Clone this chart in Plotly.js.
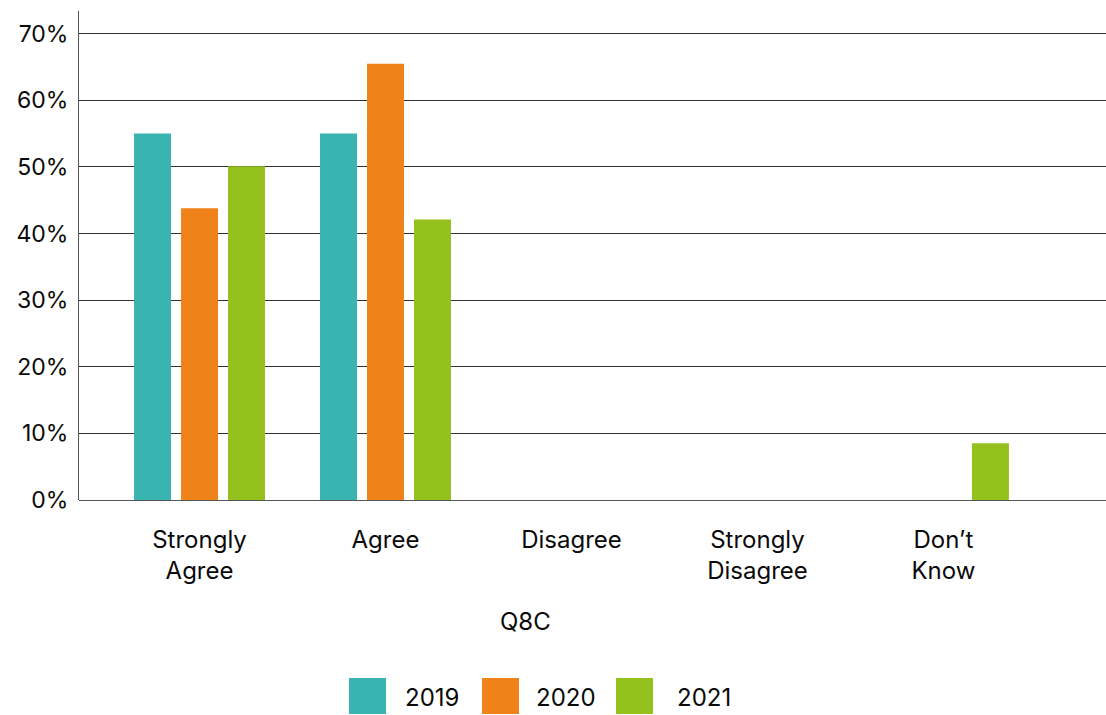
<!DOCTYPE html>
<html>
<head>
<meta charset="utf-8">
<script src="https://cdn.plot.ly/plotly-3.0.1.min.js"></script>
<style>html,body{margin:0;padding:0;background:#fff;}#chart{width:1106px;height:715px;}</style>
</head>
<body>
<div id="chart"></div>
<script>
// ---- data ----
const categories = ["Strongly<br>Agree", "Agree", "Disagree", "Strongly<br>Disagree", "Don’t<br>Know"];
const seriesNames = ["2019", "2020", "2021"];
const values2019 = [55, 55, 0, 0, 0];
const values2020 = [43.8, 65.5, 0, 0, 0];
const values2021 = [50.1, 42.1, 0, 0, 8.5];
const seriesColors = ["#3AB4B0", "#F0821A", "#95C11F"];
const yTickValues = [0, 10, 20, 30, 40, 50, 60, 70];
const yTickLabels = ["0%", "10%", "20%", "30%", "40%", "50%", "60%", "70%"];
const axisTitle = "Q8C";

// ---- layout geometry ----
const W = 1106, Hh = 715;
const mL = 79, mR = 0, mT = 11, mB = 215;
const plotW = W - mL - mR, plotH = Hh - mT - mB;
const px2x = p => (p - mL) / plotW;
const py2y = p => (mT + plotH - p) / plotH;
const FONT = "Inter, 'Open Sans', sans-serif";
const TXT = "#0a0a0a";

const allValues = [values2019, values2020, values2021];
const traces = allValues.map((v, i) => ({
  type: "bar",
  name: seriesNames[i],
  x: categories,
  y: v,
  marker: { color: seriesColors[i] },
  hoverinfo: "x+y+name"
}));

// custom legend (large square swatches)
const legendSwatchX = [349, 482, 616];
const legendTextX = [403, 534, 675];
const shapes = [];
const annotations = [];
seriesNames.forEach((n, i) => {
  shapes.push({
    type: "rect", xref: "paper", yref: "paper",
    x0: px2x(legendSwatchX[i]), x1: px2x(legendSwatchX[i] + 37),
    y0: py2y(714), y1: py2y(678),
    fillcolor: seriesColors[i], line: { width: 0 }
  });
  annotations.push({
    xref: "paper", yref: "paper",
    x: px2x(legendTextX[i]), y: py2y(697),
    xanchor: "left", yanchor: "middle",
    text: n, showarrow: false,
    font: { family: FONT, size: 24, color: TXT }
  });
});
annotations.push({
  xref: "paper", yref: "paper",
  x: px2x(525.5), y: py2y(621),
  xanchor: "center", yanchor: "middle",
  text: axisTitle, showarrow: false,
  font: { family: FONT, size: 24, color: TXT }
});

const layout = {
  width: W, height: Hh,
  margin: { l: mL, r: mR, t: mT, b: mB, pad: 0 },
  paper_bgcolor: "#fff", plot_bgcolor: "#fff",
  showlegend: false,
  barmode: "group",
  bargap: 0.242,
  bargroupgap: 0.213,
  font: { family: FONT, color: TXT },
  xaxis: {
    type: "category",
    range: [-0.648, 4.874],
    showgrid: false, zeroline: false, showline: false,
    ticks: "", ticklabelstandoff: 23,
    tickfont: { family: FONT, size: 24, color: TXT }
  },
  yaxis: {
    range: [0, 73.4],
    tickmode: "array",
    tickvals: yTickValues,
    ticktext: yTickLabels,
    showgrid: true, gridcolor: "#333", gridwidth: 1,
    zeroline: true, zerolinecolor: "#555", zerolinewidth: 1,
    showline: true, linecolor: "#555", linewidth: 1,
    ticks: "", ticklabelstandoff: 5,
    tickfont: { family: FONT, size: 23, color: TXT }
  },
  shapes: shapes,
  annotations: annotations
};

Plotly.newPlot("chart", traces, layout, { displayModeBar: false, staticPlot: true });
</script>
</body>
</html>
